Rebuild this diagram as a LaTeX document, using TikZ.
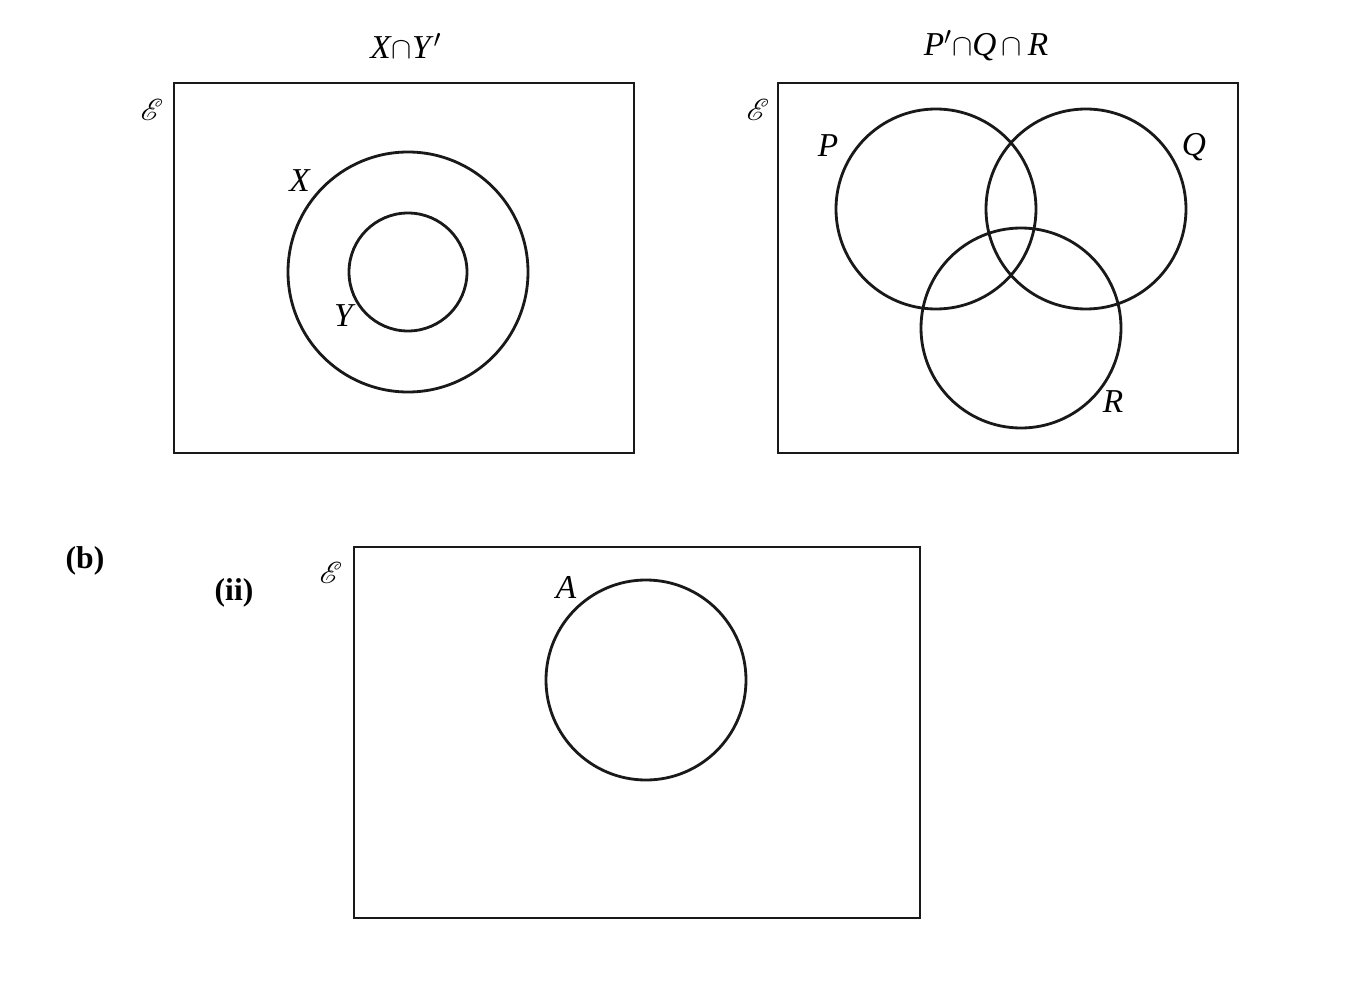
\documentclass[tikz,border=0pt]{standalone}
\usepackage{fontspec}
\setmainfont{Liberation Serif}
\usepackage{mathrsfs}
\usetikzlibrary{calc}

\tikzset{
  lbl/.style={inner sep=0pt, font=\fontsize{19}{23}\selectfont},
  partlbl/.style={inner sep=0pt, font=\fontsize{18}{22}\selectfont\bfseries},
  setline/.style={line width=1.6pt, black!90},
}

\begin{document}
\begin{tikzpicture}[x=0.02cm, y=-0.02cm]
        \useasboundingbox (0,0) rectangle (1347,997);

        % First diagram: X and Y
        \draw[setline] (174,83) rectangle (634,453);
        \draw[setline] (408,272) circle (120);
        \draw[setline] (408,272) circle (59);
        \node[lbl] (titleXY) at (406,46) {\textit{X}$\cap$\textit{Y}$'$};
        \node[lbl] (univA) at (152,110) {$\mathscr{E}$};
        \node[lbl] (labX) at (300,181) {\textit{X}};
        \node[lbl] (labY) at (345,316) {\textit{Y}};

        % Second diagram: P, Q and R
        \draw[setline] (778,83) rectangle (1238,453);
        \draw[setline] (936,209) circle (100);
        \draw[setline] (1086,209) circle (100);
        \draw[setline] (1021,328) circle (100);
        \node[lbl] (titlePQR) at (986,46) {\textit{P}$'$$\cap$\textit{Q}\,$\cap$\,\textit{R}};
        \node[lbl] (univB) at (758,110) {$\mathscr{E}$};
        \node[lbl] (labP) at (828,146) {\textit{P}};
        \node[lbl] (labQ) at (1194,147) {\textit{Q}};
        \node[lbl] (labR) at (1113,402) {\textit{R}};

        % Part (b)(ii): A
        \node[partlbl] (partb) at (85,561) {(b)};
        \node[partlbl] (partii) at (234,593) {(ii)};
        \draw[setline] (354,547) rectangle (920,918);
        \draw[setline] (646,680) circle (100);
        \node[lbl] (univC) at (331,573) {$\mathscr{E}$};
        \node[lbl] (labA) at (566,587) {\textit{A}};
    \end{tikzpicture}
\end{document}
